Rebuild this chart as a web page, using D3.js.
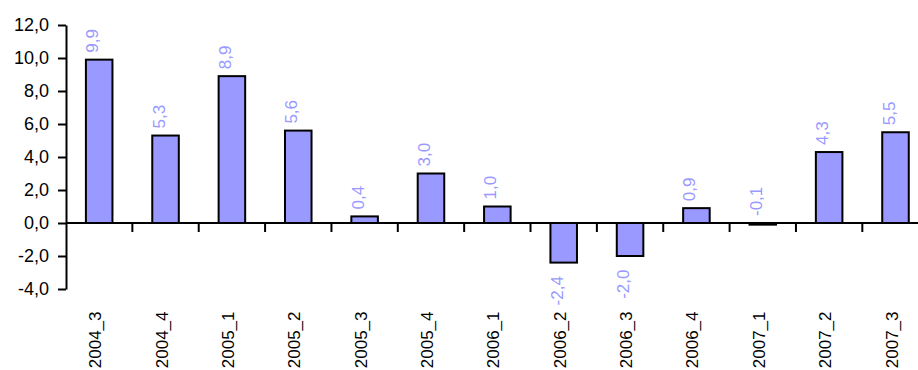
<!DOCTYPE html>
<html>
<head>
<meta charset="utf-8">
<script src="https://cdn.jsdelivr.net/npm/d3@7"></script>
<style>
  html, body { margin: 0; padding: 0; background: #fff; }
  svg { display: block; }
  text { font-family: "Liberation Sans", Arial, sans-serif; }
</style>
</head>
<body>
<svg id="chart" width="918" height="370"></svg>
<script>
// Quarterly growth, in percent
const categories = ["2004_3", "2004_4", "2005_1", "2005_2", "2005_3", "2005_4",
                    "2006_1", "2006_2", "2006_3", "2006_4", "2007_1", "2007_2", "2007_3"];
const values = [9.9, 5.3, 8.9, 5.6, 0.4, 3.0, 1.0, -2.4, -2.0, 0.9, -0.1, 4.3, 5.5];
const yTicks = [-4, -2, 0, 2, 4, 6, 8, 10, 12];

const svg = d3.select("#chart");
const fmt = v => v.toFixed(1).replace(".", ",");

const plotLeft = 66, plotTop = 25, plotBottom = 289;
const step = 66.36;

const y = d3.scaleLinear().domain([-4, 12]).range([plotBottom, plotTop]);
const x = d3.scaleBand()
  .domain(categories)
  .range([plotLeft, plotLeft + step * categories.length])
  .paddingInner(0.6)
  .paddingOuter(0.3);

const data = categories.map((c, i) => ({ cat: c, value: values[i] }));

// bars
svg.append("g")
  .selectAll("rect")
  .data(data)
  .join("rect")
  .attr("x", d => x(d.cat))
  .attr("width", x.bandwidth())
  .attr("y", d => y(Math.max(0, d.value)))
  .attr("height", d => Math.abs(y(d.value) - y(0)))
  .attr("fill", "#9999ff")
  .attr("stroke", "#000")
  .attr("stroke-width", 2);

// y axis
const yAxis = svg.append("g")
  .attr("transform", `translate(${plotLeft},0)`)
  .call(d3.axisLeft(y).tickValues(yTicks).tickSize(8).tickPadding(9).tickFormat(fmt).tickSizeOuter(0));
yAxis.select(".domain").attr("stroke", "#000").attr("stroke-width", 2);
yAxis.selectAll(".tick line").attr("stroke", "#000").attr("stroke-width", 2);
yAxis.selectAll(".tick text")
  .attr("fill", "#000")
  .style("font-size", "18px");

// x axis along zero, with ticks on category boundaries
const xg = svg.append("g").attr("transform", `translate(0,${y(0)})`);
xg.append("line")
  .attr("x1", plotLeft).attr("x2", plotLeft + step * categories.length)
  .attr("stroke", "#000").attr("stroke-width", 2);
xg.selectAll("line.tk")
  .data(d3.range(1, categories.length + 1))
  .join("line")
  .attr("class", "tk")
  .attr("x1", i => plotLeft + i * step).attr("x2", i => plotLeft + i * step)
  .attr("y1", 0).attr("y2", 9)
  .attr("stroke", "#000").attr("stroke-width", 2);

// category labels, rotated
svg.append("g")
  .selectAll("text")
  .data(data)
  .join("text")
  .attr("transform", d => `translate(${x(d.cat) + x.bandwidth() / 2 + 2},311.5) rotate(-90)`)
  .attr("text-anchor", "end")
  .attr("fill", "#000")
  .style("font-size", "17px")
  .text(d => d.cat);

// value labels, rotated
svg.append("g")
  .selectAll("text")
  .data(data)
  .join("text")
  .each(function (d) {
    const cx = x(d.cat) + x.bandwidth() / 2 - 1;
    const barLen = Math.abs(y(d.value) - y(0));
    const below = d.value < 0 && barLen > 5;
    const sel = d3.select(this);
    if (below) {
      sel.attr("transform", `translate(${cx},${y(d.value) + 13.5}) rotate(-90)`)
        .attr("text-anchor", "end");
    } else {
      sel.attr("transform", `translate(${cx},${y(Math.max(0, d.value)) - 7}) rotate(-90)`)
        .attr("text-anchor", "start");
    }
  })
  .attr("fill", "#9999ff")
  .style("font-size", "17px")
  .text(d => fmt(d.value));
</script>
</body>
</html>
